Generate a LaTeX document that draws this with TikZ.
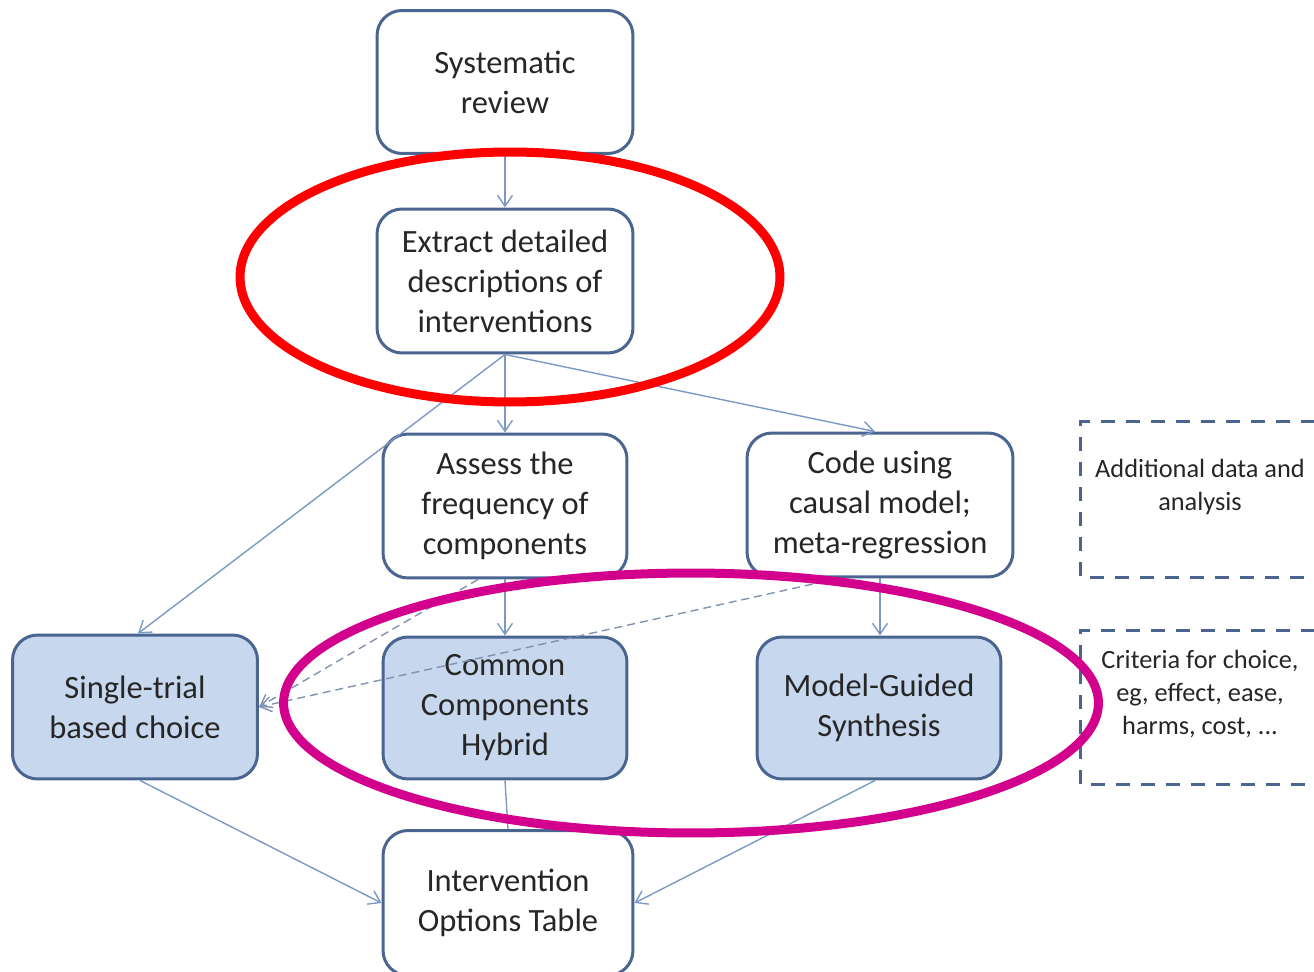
\documentclass[tikz,border=0pt]{standalone}
\usepackage{fontspec}
\setmainfont{Carlito}
\usetikzlibrary{arrows.meta}
\definecolor{boxc}{HTML}{4A6590}
\definecolor{fillc}{HTML}{C6D7EE}
\definecolor{arrc}{HTML}{7C98C4}
\definecolor{dashc}{HTML}{8092B0}
\definecolor{txtc}{HTML}{262626}
\definecolor{redc}{HTML}{FF0000}
\definecolor{magc}{HTML}{D2008C}
\begin{document}
\begin{tikzpicture}[x=0.02cm,y=-0.02cm,
  flowbox/.style={draw=boxc, line width=0.06cm, rounded corners=0.5cm, align=center,
    text=txtc, font=\fontsize{18.5}{22.8}\selectfont, inner sep=0pt},
  filledbox/.style={flowbox, fill=fillc},
  conn/.style={draw=arrc, line width=0.028cm, -{Straight Barb[length=0.22cm,width=0.3cm]}},
  dconn/.style={draw=dashc, line width=0.028cm, dash pattern=on 0.16cm off 0.1cm, -{Straight Barb[length=0.22cm,width=0.3cm]}},
  sidebox/.style={draw=boxc, line width=0.06cm, dash pattern=on 0.28cm off 0.22cm},
  sidetext/.style={align=center, text=txtc, font=\fontsize{15}{19}\selectfont, inner sep=0pt},
  ring/.style={line width=0.18cm}]
\useasboundingbox (0,0) rectangle (1314,972);
\clip (0,0) rectangle (1314,972);

% boxes
\node[flowbox, minimum width=5.12cm, minimum height=2.86cm] (sys) at (505,82) {Systematic\\review};
\node[flowbox, minimum width=5.12cm, minimum height=2.88cm] (ext) at (505,281) {Extract detailed\\descriptions of\\interventions};
\node[flowbox, minimum width=4.88cm, minimum height=2.88cm] (ass) at (505,506) {Assess the\\frequency of\\components};
\node[flowbox, minimum width=5.32cm, minimum height=2.88cm] (code) at (880,505) {Code using\\causal model;\\meta-regression};
\node[filledbox, minimum width=4.9cm, minimum height=2.88cm] (single) at (135,707) {Single-trial\\based choice};
\node[filledbox, minimum width=4.88cm, minimum height=2.84cm] (common) at (505,708) {Common\\Components\\Hybrid};
\node[filledbox, minimum width=4.88cm, minimum height=2.84cm] (model) at (879,708) {Model-Guided\\Synthesis};
\node[flowbox, minimum width=5.0cm, minimum height=2.9cm] (iot) at (508,903) {Intervention\\Options Table};

% side dashed boxes
\draw[sidebox] (1340,422) -- (1080,422) -- (1080,577) -- (1340,577);
\node[sidetext] (add) at (1200,487) {Additional data and\\analysis};
\draw[sidebox] (1340,630) -- (1080,630) -- (1080,784) -- (1340,784);
\node[sidetext] (crit) at (1200,694) {Criteria for choice,\\eg, effect, ease,\\harms, cost, ...};

% connectors
\draw[conn] (sys.south) -- (ext.north);
\draw[conn] (ext.south) -- (ass.north);
\draw[conn] (ext.south) -- ([xshift=-0.1cm]code.north);
\draw[conn] (ext.south) -- ([xshift=0.06cm]single.north);
\draw[conn] (ass.south) -- (common.north);
\draw[conn] (code.south) -- ([xshift=0.02cm]model.north);
\draw[dconn] ([xshift=-0.54cm]ass.south) -- (single.east);
\draw[dconn] ([xshift=-0.84cm]code.south) -- (single.east);
\draw[conn] ([xshift=0.1cm]single.south) -- (iot.west);
\draw[draw=arrc, line width=0.028cm] (common.south) -- (iot.north);
\draw[conn] ([xshift=-0.08cm]model.south) -- (iot.east);

% highlight ellipses
\draw[ring, draw=redc] (510,277) ellipse [x radius=5.4cm, y radius=2.5cm];
\draw[ring, draw=magc] (691,703) ellipse [x radius=8.15cm, y radius=2.6cm];
\end{tikzpicture}
\end{document}
